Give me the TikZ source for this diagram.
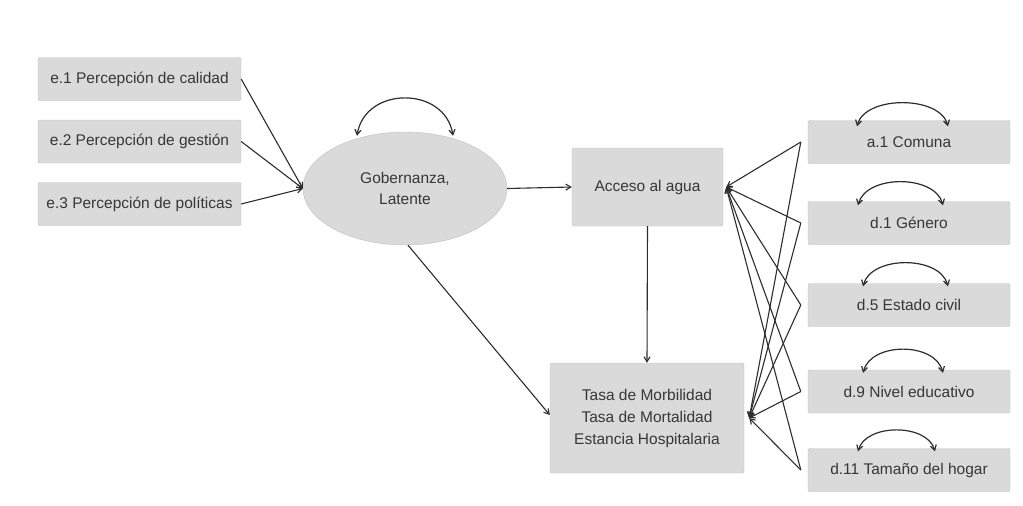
\documentclass[tikz,border=0pt]{standalone}
\usepackage{fontspec}
\setmainfont{Liberation Sans}
\usetikzlibrary{arrows.meta,shapes.geometric}

\definecolor{boxfill}{RGB}{218,218,218}
\definecolor{boxline}{RGB}{192,192,192}
\definecolor{txt}{RGB}{55,55,55}
\definecolor{wire}{RGB}{45,45,45}

\tikzset{
  varbox/.style={draw=boxline, fill=boxfill, rounded corners=1.5pt, text=txt,
    minimum height=43pt, inner sep=0pt, font=\fontsize{15.5}{22}\selectfont, align=center},
  latent/.style={ellipse, draw=boxline, fill=boxfill, text=txt, inner sep=0pt,
    minimum width=204pt, minimum height=113pt, font=\fontsize{15.5}{21}\selectfont, align=center},
  path/.style={draw=wire, line width=1.1pt, -{Straight Barb[length=5pt,width=6pt]}},
  cov/.style={draw=wire, line width=1.2pt, {Straight Barb[length=5pt,width=6pt]}-{Straight Barb[length=5pt,width=6pt]}}
}

\begin{document}
\begin{tikzpicture}[x=1pt,y=-1pt]
  \useasboundingbox (0,0) rectangle (1023,506);

  % Indicators of the latent variable
  \node[varbox, minimum width=203pt] (e1) at (139.5,79)  {e.1 Percepción de calidad};
  \node[varbox, minimum width=203pt] (e2) at (139.5,141.5) {e.2 Percepción de gestión};
  \node[varbox, minimum width=203pt] (e3) at (139.5,204) {e.3 Percepción de políticas};

  % Latent, mediator and outcome
  \node[latent] (gob) at (405,188.5) {Gobernanza,\\Latente};
  \node[varbox, minimum width=151pt, minimum height=78pt] (acc) at (647.5,187) {Acceso al agua};
  \node[varbox, minimum width=194pt, minimum height=110pt] (tasa) at (647,418)
    {Tasa de Morbilidad\\Tasa de Mortalidad\\Estancia Hospitalaria};

  % Covariates
  \node[varbox, minimum width=202pt] (a1)  at (909,142)   {a.1 Comuna};
  \node[varbox, minimum width=202pt] (d1)  at (909,223)   {d.1 Género};
  \node[varbox, minimum width=202pt] (d5)  at (909,305)   {d.5 Estado civil};
  \node[varbox, minimum width=202pt] (d9)  at (909,391.5) {d.9 Nivel educativo};
  \node[varbox, minimum width=202pt] (d11) at (909,470)   {d.11 Tamaño del hogar};

  % Paths
  \foreach \e in {e1,e2,e3}
    \draw[path] (\e.east) -- (gob.west);
  \draw[path] (gob.east) -- (acc.west);
  \draw[path] ([xshift=3pt]gob.south) -- ([yshift=3pt]tasa.west);
  \draw[path] (acc.south) -- (tasa.north);
  \foreach \d in {a1,d1,d5,d9,d11} {
    \draw[path] ([xshift=-7pt]\d.west) -- ([xshift=3pt]acc.east);
    \draw[path] ([xshift=-7pt]\d.west) -- ([xshift=5pt]tasa.east);
  }

  % Variances
  \draw[cov] ([xshift=-48pt,yshift=-4pt]gob.north) .. controls +(8,-50) and +(-8,-50) .. ([xshift=48pt,yshift=-4pt]gob.north);
  \draw[cov] ([xshift=-52pt,yshift=-6pt]a1.north) .. controls +(8,-31) and +(-8,-31) .. ([xshift=39pt,yshift=-6pt]a1.north);
  \draw[cov] ([xshift=-51pt,yshift=-4pt]d1.north) .. controls +(8,-31) and +(-8,-31) .. ([xshift=34pt,yshift=-4pt]d1.north);
  \draw[cov] ([xshift=-46pt,yshift=-3pt]d5.north) .. controls +(8,-31) and +(-8,-31) .. ([xshift=39pt,yshift=-3pt]d5.north);
  \draw[cov] ([xshift=-46pt,yshift=-3pt]d9.north) .. controls +(8,-31) and +(-8,-31) .. ([xshift=34pt,yshift=-3pt]d9.north);
  \draw[cov] ([xshift=-51pt,yshift=-3pt]d11.north) .. controls +(8,-28) and +(-8,-28) .. ([xshift=26pt,yshift=-3pt]d11.north);
\end{tikzpicture}
\end{document}
